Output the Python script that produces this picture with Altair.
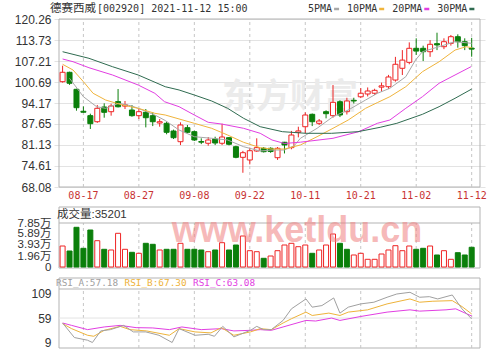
import altair as alt
import pandas as pd

# ---------------- data ----------------
dates = ["08-12", "08-13", "08-16", "08-17", "08-18", "08-19", "08-20", "08-23", "08-24", "08-25",
         "08-26", "08-27", "08-30", "08-31", "09-01", "09-02", "09-03", "09-06", "09-07", "09-08",
         "09-09", "09-10", "09-13", "09-14", "09-15", "09-16", "09-17", "09-22", "09-23", "09-24",
         "09-27", "09-28", "09-29", "09-30", "10-08", "10-11", "10-12", "10-13", "10-14", "10-15",
         "10-18", "10-19", "10-20", "10-21", "10-22", "10-25", "10-26", "10-27", "10-28", "10-29",
         "11-01", "11-02", "11-03", "11-04", "11-05", "11-08", "11-09", "11-10", "11-11", "11-12"]
label_dates = ["08-17", "08-27", "09-08", "09-22", "10-11", "10-21", "11-02", "11-12"]

opens = [100.79, 103.70, 98.42, 91.60, 90.24, 88.36, 92.93, 91.47, 94.60, 93.20,
         91.99, 90.23, 91.28, 90.23, 87.96, 87.86, 85.47, 82.15, 86.50, 85.26,
         82.20, 81.66, 82.99, 81.66, 83.39, 80.60, 77.30, 76.47, 79.26, 80.10,
         80.10, 77.18, 81.97, 80.30, 85.07, 86.80, 90.66, 87.86, 91.47, 90.23,
         94.57, 91.47, 95.00, 96.10, 96.97, 97.20, 99.10, 99.23, 101.30, 104.95,
         106.80, 111.16, 111.16, 110.10, 112.60, 111.66, 112.70, 114.76, 113.20, 111.20]
closes = [103.71, 100.30, 92.71, 91.30, 87.74, 92.52, 91.28, 93.24, 93.00, 93.60,
          90.23, 91.47, 89.60, 88.36, 88.36, 85.07, 83.39, 87.34, 85.07, 82.68,
          82.00, 82.68, 81.75, 83.61, 81.35, 77.30, 78.73, 79.35, 80.30, 79.05,
          79.10, 80.10, 81.13, 84.23, 85.50, 90.44, 88.36, 88.58, 90.85, 94.38,
          90.44, 94.80, 94.80, 97.20, 97.90, 98.10, 99.50, 102.25, 106.20, 107.50,
          111.16, 110.30, 110.10, 112.40, 112.20, 113.21, 114.76, 113.20, 111.97, 110.90]
highs = [105.76, 103.90, 98.60, 93.10, 90.85, 93.55, 94.08, 93.95, 98.50, 94.80,
         93.55, 92.30, 92.30, 91.28, 89.20, 88.36, 85.90, 88.17, 87.34, 85.57,
         83.20, 83.60, 83.70, 87.74, 83.60, 80.90, 79.30, 80.30, 83.20, 80.50,
         80.40, 80.50, 82.10, 85.50, 86.80, 91.28, 90.90, 89.20, 91.90, 99.76,
         95.00, 95.80, 95.80, 98.80, 99.00, 98.60, 100.50, 102.90, 108.50, 110.60,
         113.00, 114.26, 111.97, 113.70, 116.00, 114.26, 115.30, 115.50, 114.26, 114.40]
lows = [100.50, 99.80, 91.78, 91.20, 86.10, 88.00, 89.60, 90.23, 92.80, 92.30,
        89.90, 89.20, 86.60, 87.00, 86.80, 84.45, 82.99, 81.10, 84.80, 82.37,
        81.40, 80.90, 81.10, 81.10, 81.00, 77.00, 72.50, 75.10, 79.00, 78.80,
        78.70, 76.50, 78.50, 79.80, 83.50, 84.76, 87.00, 87.30, 89.40, 89.60,
        89.80, 90.60, 94.00, 95.70, 96.20, 96.70, 97.70, 98.50, 100.80, 102.86,
        106.20, 109.10, 107.20, 108.50, 110.60, 110.90, 112.00, 111.35, 110.60, 108.55]

volumes = [37460, 28540, 70830, 33360, 66010, 46920, 31580, 30330, 60120, 31580,
           26230, 24440, 42280, 40500, 30330, 31580, 31580, 42280, 31580, 31580,
           30330, 27300, 30330, 43350, 30330, 39250, 55300, 29080, 27300, 15520,
           19620, 29080, 39250, 42280, 36220, 39250, 24440, 30330, 39250, 58870,
           42280, 31580, 21410, 24440, 13740, 13740, 23190, 30330, 38000, 29080,
           37460, 31580, 33360, 37460, 21410, 29080, 13740, 25510, 21410, 35201]
vol_red = [1, 0, 0, 0, 0, 1, 0, 1, 1, 1, 0, 1, 0, 0, 1, 0, 0, 1, 0, 0,
           0, 1, 0, 1, 0, 0, 1, 1, 1, 0, 1, 1, 1, 1, 1, 1, 0, 1, 1, 1,
           0, 0, 1, 1, 1, 1, 1, 1, 1, 1, 1, 0, 0, 1, 0, 1, 1, 0, 0, 0]

ma5_i = [1, 3, 4.9, 6.2, 8.1, 10, 11.9, 13.3, 14.8, 16.8, 19, 21.5, 23.8, 26.1, 28.5, 30.2,
         32, 33.4, 34.3, 36.7, 39, 41.2, 43.7, 45.4, 47.2, 49.5, 50.9, 51.9, 54.3, 56.6, 59]
ma5_v = [101.84, 96.13, 93.02, 92.52, 94.08, 93.24, 91.68, 90.44, 88.73, 85.78, 83.70, 83.21,
         82.68, 80.60, 79.26, 79.57, 79.57, 80.91, 83.21, 86.31, 89.91, 91.99, 95.10, 97.18,
         98.74, 102.34, 107.53, 110.10, 111.66, 113.21, 112.71]
ma10_i = [0, 1.5, 3, 4.4, 6.2, 8.6, 10.9, 13.3, 14.8, 19, 21.5, 23.8, 26.1, 28.5, 30.2, 32,
          34.3, 36.7, 39, 41.2, 43.7, 45.4, 47.2, 49.5, 51.9, 54.3, 56.6, 58.2, 59]
ma10_v = [106.19, 104.42, 100.79, 97.18, 95.10, 93.55, 92.52, 90.97, 90.44, 87.86, 86.31,
          84.23, 81.96, 80.29, 79.88, 79.88, 81.13, 83.70, 86.31, 88.89, 92.52, 94.30, 96.13,
          99.23, 103.89, 106.98, 110.61, 111.66, 111.35]
ma20_i = [0, 1.5, 3.8, 7.2, 10.9, 13.3, 14.7, 16.8, 19, 21, 22.9, 26.1, 28.5, 30.2, 32, 34.3,
          39, 42.7, 45.4, 47.2, 49.5, 51.9, 54.3, 56.6, 58.9]
ma20_v = [107.84, 107.00, 105.13, 102.87, 99.76, 97.18, 94.57, 93.02, 90.44, 88.17, 87.65,
          86.31, 84.76, 82.68, 81.60, 82.00, 83.21, 85.26, 87.87, 88.89, 92.52, 96.13, 100.29,
          102.87, 105.44]
ma30_i = [0, 3.8, 7.2, 10.9, 14.8, 16.8, 19, 21.5, 23.8, 26.1, 28.5, 31.7, 35.1, 38.8, 42.6,
          45.8, 48.2, 51.9, 54.3, 56.6, 59]
ma30_v = [110.10, 108.05, 105.44, 102.87, 99.23, 98.21, 96.65, 94.79, 92.52, 89.42, 86.81,
          85.26, 84.76, 84.76, 85.26, 86.62, 87.86, 90.66, 93.02, 95.63, 98.50]

rsi_a_i = [0, 1.7, 3.6, 4.3, 5.5, 6.9, 8.8, 10.2, 12, 13.9, 15.8, 16.8, 19.1, 21, 21.9, 23.1,
           24.7, 27.1, 28, 29, 30.1, 31.8, 33, 35.1, 36, 37.4, 39.1, 40, 41.2, 43, 44.9, 46.8,
           48.2, 50.1, 51.5, 52.9, 54.1, 56.2, 57.6, 59]
rsi_a_v = [49, 19.6, 14.2, 9.6, 33, 35.6, 44.2, 31, 31, 24.2, 9.6, 37.6, 24.2, 26.2, 22.2,
           42.2, 21, 34.2, 42.2, 35.6, 35.6, 54.2, 77.6, 97.6, 81, 84.2, 99.6, 69, 81, 87.6,
           91, 101, 107.6, 111, 101, 102.2, 97.6, 105.6, 77.6, 57.18]
rsi_b_i = [0, 1.3, 3.6, 4.5, 6, 8.3, 9.7, 12.1, 15.4, 16.8, 19.1, 21.4, 22.9, 24.7, 27.1, 28.5,
           30.1, 31.8, 33, 35.1, 36, 38.4, 40, 41.2, 44, 46.8, 50.1, 51.5, 53.4, 56.2, 57.6, 59]
rsi_b_v = [47.6, 37.6, 24.2, 22.2, 34.2, 42.2, 35.6, 33, 24.2, 37.6, 31, 29, 39.6, 24.2, 31,
           37.6, 35.6, 49, 57.6, 71, 64.2, 69, 64.2, 71, 75.6, 87.6, 97.6, 91, 93, 94.2, 82.2,
           67.30]
rsi_c_i = [0, 1.3, 3.6, 6, 8.3, 10.6, 13, 15.4, 17.2, 20, 22.9, 24.7, 27.1, 28.5, 30.1, 31.8,
           35.1, 36.5, 38.8, 40, 43, 46.8, 50.1, 51.5, 55.3, 56.7, 59]
rsi_c_v = [49, 44.2, 35.6, 41, 44.2, 39.6, 39, 35.6, 41, 35.6, 37.6, 33, 34.2, 35.6, 34.2, 41,
           54.2, 53, 59, 54.2, 62.2, 71, 75.6, 73, 75.6, 77.6, 63.08]

price_ticks = [68.08, 74.61, 81.13, 87.65, 94.17, 100.69, 107.21, 113.73, 120.26]
vol_ticks = [0, 19600, 39300, 58900, 78500]
rsi_ticks = [9, 59, 109]
stock_name = "德赛西威"
stock_info = "[002920] 2021-11-12 15:00"
ma_names = ["5PMA", "10PMA", "20PMA", "30PMA"]
vol_title = "成交量:35201"
rsi_titles = ["RSI_A:57.18", "RSI_B:67.30", "RSI_C:63.08"]

# ---------------- styling / layout ----------------
RED = "#ee2424"
GREEN = "#0b7f0b"
MA_COLORS = ["#a8a8a8", "#f0b43c", "#e23ee2", "#2f6b50"]
RSI_COLORS = ["#a0a0a0", "#eeb33a", "#e23ee2"]
FRAME = "#b3b3b3"
GRID = "#e3e3e3"
VGRID = "#c6c6c6"
DATE_RED = "#c83232"
TXT = "#333333"
MONO = "DejaVu Sans Mono"
SANS = "Liberation Sans, Noto Sans CJK SC"
CJK = "Noto Sans CJK SC"

W, H = 431, 329
X_DOM = [-0.52, 60.2]


def domain_from(v_a, px_a, v_b, px_b):
    k = (v_a - v_b) / (px_b - px_a)
    return [v_a - (H - px_a) * k, v_a + px_a * k]


def at_px(dom, px):
    return dom[1] - px * (dom[1] - dom[0]) / H


P_DOM = domain_from(price_ticks[-1], 0, price_ticks[0], 168)
V_DOM = domain_from(78500, 204, 0, 248)
R_DOM = domain_from(109, 274.3, 9, 323.8)


def xenc(field="i"):
    return alt.X(f"{field}:Q", scale=alt.Scale(domain=X_DOM, nice=False, zero=False), axis=None)


def axis_common(**kw):
    return alt.Axis(orient="left", domain=False, ticks=False, labelPadding=3, labelFlush=False,
                    labelOverlap=False, title=None, labelColor=TXT, **kw)


price_axis = axis_common(values=price_ticks, format=".2f", grid=True, gridColor=GRID,
                         labelFont="Liberation Sans", labelFontSize=12)
vol_axis = axis_common(values=vol_ticks, grid=False, labelFont=SANS, labelFontSize=11.5,
                       labelExpr="datum.value == 0 ? '0' : format(datum.value / 10000, '.2f') + '万'")
rsi_axis = axis_common(values=rsi_ticks, format="d", grid=False, labelFont="Liberation Sans",
                       labelFontSize=12)


def py(field):
    return alt.Y(f"{field}:Q", scale=alt.Scale(domain=P_DOM, nice=False, zero=False), axis=price_axis)


def vy(field):
    return alt.Y(f"{field}:Q", scale=alt.Scale(domain=V_DOM, nice=False, zero=False), axis=vol_axis)


def ry(field):
    return alt.Y(f"{field}:Q", scale=alt.Scale(domain=R_DOM, nice=False, zero=False), axis=rsi_axis)


one = pd.DataFrame({"k": [0]})
label_idx = [dates.index(d) for d in label_dates]

# ---------------- price panel ----------------
candles = pd.DataFrame({"i": list(range(len(dates))), "date": dates, "open": opens,
                        "close": closes, "high": highs, "low": lows})
up = "datum.close >= datum.open"

p_frame = alt.Chart(pd.DataFrame({"x1": [X_DOM[0]], "x2": [X_DOM[1]],
                                  "y1": [price_ticks[0]], "y2": [price_ticks[-1]]})).mark_rect(
    fillOpacity=0, stroke=FRAME, strokeWidth=1).encode(
    x=xenc("x1"), x2="x2", y=py("y1"), y2="y2")

p_vgrid = alt.Chart(pd.DataFrame({"i": label_idx, "y1": price_ticks[0], "y2": price_ticks[-1]})).mark_rule(
    color=VGRID, strokeDash=[3, 3], strokeWidth=1).encode(x=xenc("i"), y=py("y1"), y2="y2")

p_wm = alt.Chart(one).mark_text(text="东方财富", font=CJK, fontSize=34, fontWeight="bold",
                                color="#ebebeb", align="center", baseline="middle").encode(
    x=alt.value(236), y=alt.value(79))

wicks = alt.Chart(candles).mark_rule(strokeWidth=1).encode(
    x=xenc("i"), y=py("low"), y2="high",
    color=alt.condition(up, alt.value(RED), alt.value(GREEN)))
bodies = alt.Chart(candles).mark_bar(size=5, strokeWidth=1).encode(
    x=xenc("i"), y=py("open"), y2="close",
    fill=alt.condition(up, alt.value("white"), alt.value(GREEN)),
    stroke=alt.condition(up, alt.value(RED), alt.value(GREEN)))

ma_layers = []
for xs, vs, col in [(ma5_i, ma5_v, MA_COLORS[0]), (ma10_i, ma10_v, MA_COLORS[1]),
                    (ma20_i, ma20_v, MA_COLORS[2]), (ma30_i, ma30_v, MA_COLORS[3])]:
    ma_layers.append(alt.Chart(pd.DataFrame({"i": xs, "v": vs})).mark_line(
        color=col, strokeWidth=1).encode(x=xenc("i"), y=py("v")))

date_lbl = alt.Chart(pd.DataFrame({"i": label_idx, "t": label_dates,
                                   "y": at_px(P_DOM, 177)})).mark_text(
    font=MONO, fontSize=10, color=DATE_RED, align="center", baseline="middle").encode(
    x=xenc("i"), y=py("y"), text="t:N")

price = alt.layer(p_wm, p_frame, p_vgrid, wicks, bodies, *ma_layers, date_lbl)

# ---------------- volume panel ----------------
vol_df = pd.DataFrame({"i": list(range(len(dates))), "vol": volumes, "red": vol_red})
v_frame = alt.Chart(pd.DataFrame({"x1": [X_DOM[0]], "x2": [X_DOM[1]],
                                  "y1": [at_px(V_DOM, 249)], "y2": [at_px(V_DOM, 188)]})).mark_rect(
    fillOpacity=0, stroke=FRAME, strokeWidth=1).encode(x=xenc("x1"), x2="x2", y=vy("y1"), y2="y2")
v_sep = alt.Chart(pd.DataFrame({"x1": [X_DOM[0]], "x2": [X_DOM[1]], "y": [vol_ticks[-1]]})).mark_rule(
    color=FRAME, strokeWidth=1).encode(x=xenc("x1"), x2="x2", y=vy("y"))
v_vgrid = alt.Chart(pd.DataFrame({"i": label_idx, "y1": 0, "y2": vol_ticks[-1]})).mark_rule(
    color=VGRID, strokeDash=[3, 3], strokeWidth=1).encode(x=xenc("i"), y=vy("y1"), y2="y2")
v_bars = alt.Chart(vol_df).mark_bar(size=5, strokeWidth=1).encode(
    x=xenc("i"), y=vy("vol"), y2=alt.datum(0),
    fill=alt.condition("datum.red == 1", alt.value("white"), alt.value(GREEN)),
    stroke=alt.condition("datum.red == 1", alt.value(RED), alt.value(GREEN)))
v_title = alt.Chart(one).mark_text(text=vol_title, font=SANS, fontSize=11.5, color=TXT,
                                   align="left", baseline="middle").encode(
    x=alt.value(3), y=alt.value(196))
v_wm = alt.Chart(one).mark_text(text="www.ketldu.cn", font="Liberation Sans", fontSize=36,
                                fontWeight="bold", color="#f08080", opacity=0.55,
                                align="center", baseline="alphabetic").encode(
    x=alt.value(243), y=alt.value(223))
volume = alt.layer(v_frame, v_vgrid, v_sep, v_bars, v_title, v_wm)

# ---------------- RSI panel ----------------
r_frame = alt.Chart(pd.DataFrame({"x1": [X_DOM[0]], "x2": [X_DOM[1]],
                                  "y1": [at_px(R_DOM, 329)], "y2": [at_px(R_DOM, 259)]})).mark_rect(
    fillOpacity=0, stroke=FRAME, strokeWidth=1).encode(x=xenc("x1"), x2="x2", y=ry("y1"), y2="y2")
r_sep = alt.Chart(pd.DataFrame({"x1": [X_DOM[0]] * 2, "x2": [X_DOM[1]] * 2,
                                "y": [at_px(R_DOM, 270), rsi_ticks[1]],
                                "c": [FRAME, GRID]})).mark_rule(strokeWidth=1).encode(
    x=xenc("x1"), x2="x2", y=ry("y"), color=alt.Color("c:N", scale=None))
r_vgrid = alt.Chart(pd.DataFrame({"i": label_idx, "y1": at_px(R_DOM, 329),
                                  "y2": at_px(R_DOM, 270)})).mark_rule(
    color=VGRID, strokeDash=[3, 3], strokeWidth=1).encode(x=xenc("i"), y=ry("y1"), y2="y2")
rsi_layers = []
for xs, vs, col in [(rsi_c_i, rsi_c_v, RSI_COLORS[2]), (rsi_b_i, rsi_b_v, RSI_COLORS[1]),
                    (rsi_a_i, rsi_a_v, RSI_COLORS[0])]:
    rsi_layers.append(alt.Chart(pd.DataFrame({"i": xs, "v": vs})).mark_line(
        color=col, strokeWidth=1).encode(x=xenc("i"), y=ry("v")))
r_titles = []
for k, (t, col) in enumerate(zip(rsi_titles, RSI_COLORS)):
    r_titles.append(alt.Chart(one).mark_text(text=t, font=MONO, fontSize=9.4, color=col,
                                             align="left", baseline="middle").encode(
        x=alt.value(2 + 68.5 * k), y=alt.value(264)))
rsi = alt.layer(r_frame, r_vgrid, r_sep, *rsi_layers, *r_titles)

# ---------------- header & legend ----------------
deco = [
    alt.Chart(one).mark_text(text=stock_name, font=CJK, fontSize=11.5, color=TXT, align="left",
                             baseline="middle").encode(x=alt.value(-4), y=alt.value(-10)),
    alt.Chart(one).mark_text(text=stock_info, font=MONO, fontSize=10, color=TXT, align="left",
                             baseline="middle").encode(x=alt.value(43), y=alt.value(-10.5)),
]
lx = 254
for name, col in zip(ma_names, MA_COLORS):
    tw = 6.02 * len(name)
    deco.append(alt.Chart(one).mark_text(text=name, font=MONO, fontSize=10, color=TXT,
                                         align="left", baseline="middle").encode(
        x=alt.value(lx), y=alt.value(-10.5)))
    deco.append(alt.Chart(one).mark_rule(color=col, strokeWidth=2.5).encode(
        x=alt.value(lx + tw + 2), x2=alt.value(lx + tw + 7), y=alt.value(-10)))
    lx = lx + tw + 15

chart = alt.layer(price, volume, rsi, *deco).resolve_scale(y="independent").properties(
    width=W, height=H,
    autosize=alt.AutoSizeParams(type="none"),
    padding={"left": 54, "top": 19, "right": 14, "bottom": 2},
    background="white",
).configure_view(strokeWidth=0)

chart.save("out.html", embed_options={"renderer": "svg", "actions": False})
